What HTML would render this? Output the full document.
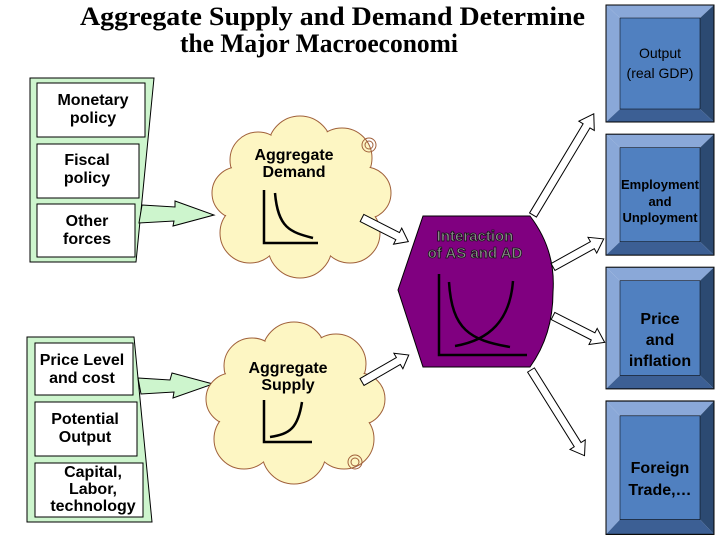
<!DOCTYPE html>
<html><head><style>
body{margin:0;background:#fff;}
svg{display:block;font-family:"Liberation Sans",Arial,sans-serif;}
.t{font-weight:bold;fill:#000;}
</style></head><body>
<svg width="720" height="540" viewBox="0 0 720 540" xmlns="http://www.w3.org/2000/svg">
<defs>
<g id="cloud">
<circle cx="0" cy="-50" r="32"/><circle cx="-42" cy="-38" r="28"/><circle cx="42" cy="-40" r="30"/>
<circle cx="-62" cy="-5" r="26"/><circle cx="65" cy="-5" r="26"/><circle cx="-50" cy="35" r="30"/>
<circle cx="50" cy="35" r="30"/><circle cx="0" cy="48" r="32"/><circle cx="0" cy="0" r="55"/>
</g>
</defs>
<text x="80" y="25" textLength="505" lengthAdjust="spacingAndGlyphs" font-family="Liberation Serif,serif" font-size="26" font-weight="bold">Aggregate Supply and Demand Determine</text>
<text x="180" y="52" textLength="278" lengthAdjust="spacingAndGlyphs" font-family="Liberation Serif,serif" font-size="26" font-weight="bold">the Major Macroeconomi</text>

<!-- left group 1 -->
<polygon points="30,78 154,78 136,262 30,262" fill="#cdf5cd" stroke="#000" stroke-width="1"/>
<rect x="37" y="83" width="108" height="54" fill="#fff" stroke="#000"/>
<rect x="37" y="144" width="102" height="54" fill="#fff" stroke="#000"/>
<rect x="37" y="204" width="98" height="53" fill="#fff" stroke="#000"/>
<text class="t" font-size="16" text-anchor="middle"><tspan x="93" y="105">Monetary</tspan><tspan x="93" y="123">policy</tspan></text>
<text class="t" font-size="16" text-anchor="middle"><tspan x="87" y="165">Fiscal</tspan><tspan x="87" y="183">policy</tspan></text>
<text class="t" font-size="16" text-anchor="middle"><tspan x="87" y="226">Other</tspan><tspan x="87" y="244">forces</tspan></text>
<polygon points="142,205 175,207 175,201 214,215 173,226 174,221 139,223" fill="#cdf5cd" stroke="#000" stroke-width="1"/>

<!-- left group 2 -->
<polygon points="27,337 134,337 152,522 27,522" fill="#cdf5cd" stroke="#000"/>
<rect x="35" y="343" width="98" height="52" fill="#fff" stroke="#000"/>
<rect x="35" y="402" width="102" height="54" fill="#fff" stroke="#000"/>
<rect x="35" y="463" width="108" height="54" fill="#fff" stroke="#000"/>
<text class="t" font-size="16" text-anchor="middle"><tspan x="82" y="365">Price Level</tspan><tspan x="82" y="383">and cost</tspan></text>
<text class="t" font-size="16" text-anchor="middle"><tspan x="85" y="424">Potential</tspan><tspan x="85" y="442">Output</tspan></text>
<text class="t" font-size="16" text-anchor="middle"><tspan x="93" y="477">Capital,</tspan><tspan x="93" y="494">Labor,</tspan><tspan x="93" y="511">technology</tspan></text>
<polygon points="138,378 170,380 172,373 213,384 173,398 174,392 141,394" fill="#cdf5cd" stroke="#000"/>

<!-- clouds -->
<g transform="translate(300,198)" fill="#fdf6c3" stroke="#a0603a" stroke-width="1"><use href="#cloud"/></g>
<g transform="translate(300,198)" fill="#fdf6c3" stroke="none"><g transform="scale(0.985)"><use href="#cloud"/></g></g>
<g transform="translate(294,404)" fill="#fdf6c3" stroke="#a0603a" stroke-width="1"><use href="#cloud"/></g>
<g transform="translate(294,404)" fill="#fdf6c3" stroke="none"><g transform="scale(0.985)"><use href="#cloud"/></g></g>
<g fill="none" stroke="#a0603a"><circle cx="369" cy="145" r="7"/><circle cx="369" cy="145" r="4"/><circle cx="355" cy="462" r="7"/><circle cx="355" cy="462" r="4"/></g>
<text class="t" font-size="16" text-anchor="middle"><tspan x="294" y="160">Aggregate</tspan><tspan x="294" y="177">Demand</tspan></text>
<path d="M264,190 V243 H318 M275,193 C278,228 290,232 313,238" fill="none" stroke="#000" stroke-width="2.5"/>
<text class="t" font-size="16" text-anchor="middle"><tspan x="288" y="373">Aggregate</tspan><tspan x="288" y="390">Supply</tspan></text>
<path d="M264,400 V442 H312 M270,437 C290,434 298,428 302,402" fill="none" stroke="#000" stroke-width="2.5"/>

<!-- purple -->
<path d="M423,216 H530 Q556,250 553,292 Q553,335 530,367 H423 L398,290 Z" fill="#800080" stroke="#000"/>
<text font-size="15" font-weight="bold" fill="#8a8a8a" stroke="#111" stroke-width="0.7" text-anchor="middle"><tspan x="475" y="241">Interaction</tspan><tspan x="475" y="258">of AS and AD</tspan></text>
<path d="M439,274 V355 H527 M449,282 C452,330 470,340 510,347 M455,346 C490,340 510,320 513,281" fill="none" stroke="#000" stroke-width="2.5"/>

<!-- hollow arrows -->
<g fill="#fff" stroke="#000" stroke-width="1">
<g transform="translate(362,218) rotate(27)"><polygon points="0,-4 40,-4 40,-9 52,0 40,9 40,4 0,4"/></g>
<g transform="translate(362,382) rotate(-30)"><polygon points="0,-4 42,-4 42,-9 54,0 42,9 42,4 0,4"/></g>
<g transform="translate(533,215) rotate(-59)"><polygon points="0,-4 104,-4 104,-9 118,0 104,9 104,4 0,4"/></g>
<g transform="translate(553,267) rotate(-29)"><polygon points="0,-4 45,-4 45,-9 58,0 45,9 45,4 0,4"/></g>
<g transform="translate(553,316) rotate(27)"><polygon points="0,-4 45,-4 45,-9 58,0 45,9 45,4 0,4"/></g>
<g transform="translate(531,370) rotate(58)"><polygon points="0,-4 88,-4 88,-9 101,0 88,9 88,4 0,4"/></g>
</g>

<!-- blue boxes -->
<g id="b1">
<polygon points="606,5 714,5 700,18 620,18" fill="#8aa8d8"/>
<polygon points="606,5 620,18 620,109 606,122" fill="#8aa8d8"/>
<polygon points="714,5 714,122 700,109 700,18" fill="#2c4a72"/>
<polygon points="606,122 714,122 700,109 620,109" fill="#3c5f94"/>
<rect x="620" y="18" width="80" height="91" fill="#5080c0" stroke="#000" stroke-width="0.5"/>
<rect x="606" y="5" width="108" height="117" fill="none" stroke="#000"/>
</g>
<use href="#b1" transform="translate(0,129) scale(1,1.034)"/>
<use href="#b1" transform="translate(0,262) scale(1,1.04)"/>
<g transform="translate(0,401) scale(1,1.14) translate(0,-5)"><use href="#b1"/></g>
<text font-size="14" text-anchor="middle" fill="#000"><tspan x="660" y="58">Output</tspan><tspan x="660" y="78">(real GDP)</tspan></text>
<text class="t" font-size="13" text-anchor="middle"><tspan x="660" y="189">Employment</tspan><tspan x="660" y="206">and</tspan><tspan x="660" y="222">Unployment</tspan></text>
<text class="t" font-size="16" text-anchor="middle"><tspan x="660" y="324">Price</tspan><tspan x="660" y="345">and</tspan><tspan x="660" y="366">inflation</tspan></text>
<text class="t" font-size="16" text-anchor="middle"><tspan x="660" y="473">Foreign</tspan><tspan x="660" y="495">Trade,…</tspan></text>
</svg>
</body></html>
